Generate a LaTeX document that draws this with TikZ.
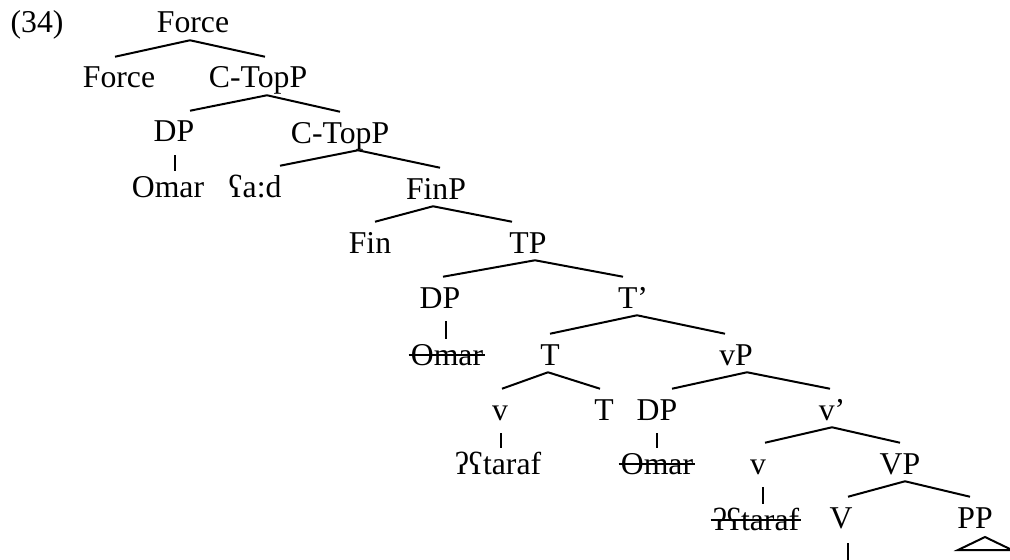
\documentclass[tikz,border=0pt]{standalone}
\usepackage{fontspec}
\setmainfont{Liberation Serif}
\usetikzlibrary{calc}
\begin{document}
\begin{tikzpicture}[x=0.75pt,y=-0.75pt,
  lab/.style={anchor=base,inner sep=0pt,text height=23.25pt,text depth=5.25pt,
              font=\fontsize{23.8}{28}\selectfont},
  edge/.style={line width=1.5pt},
  strikeout/.style={line width=1.4pt}]
\useasboundingbox (0,0) rectangle (1010,560);

% labels: anchored at their baselines
\node[lab] (n34)    at (37,33)  {(34)};
\node[lab] (force)  at (193,33) {Force};
\node[lab] (forceh) at (119,88) {Force};
\node[lab] (ctop1)  at (258,88) {C-TopP};
\node[lab] (dp1)    at (174,142) {DP};
\node[lab] (ctop2)  at (340,143) {C-TopP};
\node[lab] (omar1)  at (168,197) {Omar};
\node[lab] (aad)    at (255,197) {ʕa:d};
\node[lab] (finp)   at (436,199) {FinP};
\node[lab] (fin)    at (370,253) {Fin};
\node[lab] (tp)     at (528,253) {TP};
\node[lab] (dp2)    at (440,308) {DP};
\node[lab] (tbar)   at (633,308) {T’};
\node[lab] (omar2)  at (447,365) {Omar};
\node[lab] (t1)     at (550,365) {T};
\node[lab] (vp)     at (736,365) {vP};
\node[lab] (v1)     at (500,420) {v};
\node[lab] (t2)     at (604,420) {T};
\node[lab] (dp3)    at (657,420) {DP};
\node[lab] (vbar)   at (832,420) {v’};
\node[lab] (taraf1) at (498,474) {ʔʕtaraf};
\node[lab] (omar3)  at (657,474) {Omar};
\node[lab] (v2)     at (758,474) {v};
\node[lab] (vpp)    at (900,474) {VP};
\node[lab] (taraf2) at (756,530) {ʔʕtaraf};
\node[lab] (vv)     at (841,528) {V};
\node[lab] (pp)     at (975,528) {PP};
\coordinate (vend) at (848,566);

% binary branches: parent/x-offset/child/x-offset
\foreach \p/\a/\c/\b in {force/-3/forceh/-4, force/-3/ctop1/7,
    ctop1/9/dp1/16, ctop1/9/ctop2/0,
    ctop2/18/aad/25, ctop2/18/finp/4,
    finp/-3/fin/5, finp/-3/tp/-16,
    tp/7/dp2/3, tp/7/tbar/-10,
    tbar/4/t1/0, tbar/4/vp/-11,
    t1/-2/v1/2, t1/-2/t2/-4,
    vp/11/dp3/15, vp/11/vbar/-2,
    vbar/0/v2/7, vbar/0/vpp/0,
    vpp/5/vv/7, vpp/5/pp/-5}
  \draw[edge] ($(\p.south)+(\a,0)$) -- ($(\c.north)+(\b,0)$);

% unary stems
\foreach \p/\a/\c in {dp1/1/omar1, dp2/6/omar2, v1/1/taraf1, dp3/0/omar3, v2/5/taraf2}
  \draw[edge] ($(\p.base)+(\a,13)$) -- ($(\p.base |- \c.base)+(\a,-26)$);
\draw[edge] ($(vv.base)+(7,15)$) -- ($(vv.base |- vend)+(7,0)$);

% triangle under PP
\draw[edge,line join=miter] ($(pp.base)+(10,9)$) -- ($(pp.base)+(-17,22)$)
  -- ($(pp.base)+(37,22)$) -- cycle;

% struck-through copies
\foreach \n in {omar2, omar3, taraf2}
  \draw[strikeout] ($(\n.base west)+(-2,-10)$) -- ($(\n.base east)+(2,-10)$);
\end{tikzpicture}
\end{document}
